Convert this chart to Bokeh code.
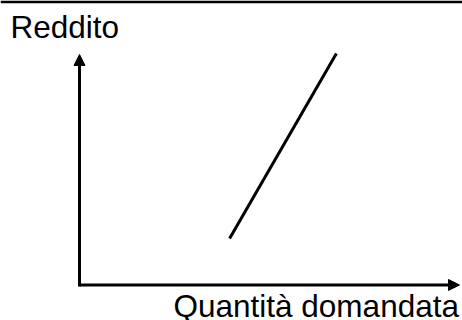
from bokeh.plotting import figure
from bokeh.models import Range1d, Arrow, NormalHead, Label
from bokeh.embed import file_html
from bokeh.resources import INLINE

# Conceptual diagram data (abstract units, origin at axes corner)
axis_x_end = 10.0
axis_y_end = 10.0
line_x = [3.95, 6.76]
line_y = [1.97, 10.04]
y_label = "Reddito"
x_label = "Quantità domandata"

W, H = 462, 320
X0, X1 = -2.079, 10.079
Y0, Y1 = -1.616, 12.358
p = figure(width=W, height=H, output_backend="svg", toolbar_location=None,
           x_range=Range1d(X0, X1), y_range=Range1d(Y0, Y1),
           min_border=0, min_border_left=0, min_border_right=0,
           min_border_top=0, min_border_bottom=0)
p.axis.visible = False
p.grid.visible = False
p.outline_line_color = None
p.background_fill_color = "white"
p.border_fill_color = "white"

# top rule
p.line(x=[X0, X1], y=[12.30, 12.30], line_color="black", line_width=2.6)

# axes with arrows
p.add_layout(Arrow(x_start=0, y_start=-0.065, x_end=axis_x_end, y_end=-0.065,
                   line_color="black", line_width=3,
                   end=NormalHead(size=11, fill_color="black", line_color="black", line_width=1)))
p.add_layout(Arrow(x_start=0, y_start=-0.13, x_end=0, y_end=axis_y_end,
                   line_color="black", line_width=3,
                   end=NormalHead(size=11, fill_color="black", line_color="black", line_width=1)))

# demand line
p.line(x=line_x, y=line_y, line_color="black", line_width=3)

# labels (screen units: x from left, y from bottom of frame)
p.add_layout(Label(x=10, y=H - 26, x_units="screen", y_units="screen", text=y_label,
                   text_font="Liberation Sans", text_font_size="31.5px",
                   text_color="black", text_baseline="alphabetic"))
p.add_layout(Label(x=173, y=15, x_units="screen", y_units="screen", text=x_label,
                   text_font="Liberation Sans", text_font_size="31.5px",
                   text_color="black", text_baseline="alphabetic"))

open("out.html", "w").write(file_html(p, INLINE))
